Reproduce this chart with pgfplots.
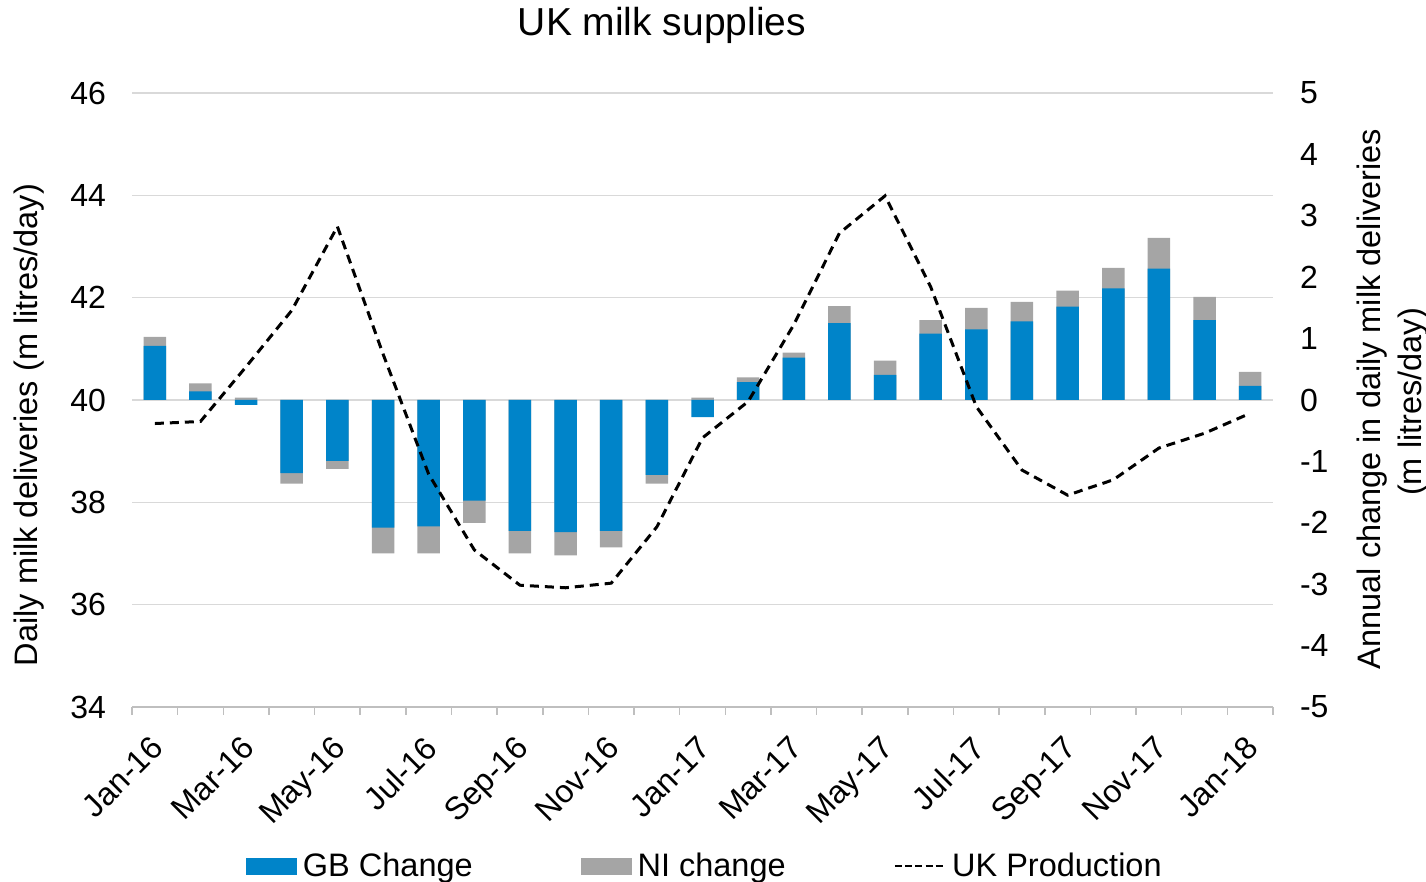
\documentclass[border=0pt]{standalone}
\usepackage{pgfplots}
\pgfplotsset{compat=1.18}
\usepackage{pgfplotstable}
\usepackage{fontspec}
\setmainfont{Liberation Sans}
\definecolor{gbblue}{RGB}{0,132,201}
\definecolor{nigray}{RGB}{165,165,165}
\definecolor{gridgray}{RGB}{217,217,217}
\definecolor{tickgray}{RGB}{191,191,191}

\pgfplotstableread{
x GB NI UK
0 0.88 0.15 39.54
1 0.14 0.13 39.58
2 -0.08 0.04 40.65
3 -1.19 -0.17 41.75
4 -0.99 -0.13 43.39
5 -2.08 -0.42 40.90
6 -2.06 -0.44 38.55
7 -1.64 -0.36 37.07
8 -2.13 -0.37 36.38
9 -2.15 -0.38 36.33
10 -2.13 -0.27 36.42
11 -1.22 -0.14 37.52
12 -0.28 0.04 39.26
13 0.29 0.08 39.97
14 0.69 0.08 41.47
15 1.25 0.28 43.26
16 0.41 0.23 43.99
17 1.08 0.22 42.21
18 1.15 0.35 39.87
19 1.28 0.32 38.63
20 1.52 0.26 38.14
21 1.82 0.33 38.44
22 2.14 0.50 39.06
23 1.30 0.38 39.35
24 0.23 0.23 39.74
}\milk

\newcommand{\tickfont}{\fontsize{16}{19}\selectfont}
\newcommand{\labfont}{\fontsize{16.25}{19.5}\selectfont}

\begin{document}
\begin{tikzpicture}
\path[use as bounding box] (0,0) rectangle (713pt,441pt);

\pgfplotsset{
  common/.style={
    at={(66pt,87.5pt)}, anchor=south west,
    scale only axis, width=570.5pt, height=307pt,
    xmin=-0.5, xmax=24.5,
    /pgf/number format/assume math mode=true,
    tick label style={font=\tickfont},
  }
}

% Axis 1: grid, left ticks, x axis
\begin{axis}[
  common,
  ymin=34, ymax=46, ytick={34,36,...,46},
  axis x line*=bottom, axis y line*=left,
  y axis line style={draw=none},
  x axis line style={draw=tickgray, line width=0.75pt},
  ymajorgrids, grid style={gridgray, line width=0.75pt},
  ytick style={draw=none},
  xtick={0,2,...,24},
  xticklabels={Jan-16,Mar-16,May-16,Jul-16,Sep-16,Nov-16,Jan-17,Mar-17,May-17,Jul-17,Sep-17,Nov-17,Jan-18},
  minor xtick={-0.5,0.5,...,24.5},
  major x tick style={draw=none},
  minor x tick style={draw=tickgray, line width=0.75pt},
  minor tick length=4pt,
  xtick align=outside,
  xticklabel style={rotate=45, anchor=north east, inner sep=0pt, xshift=-8.5pt, yshift=-4.5pt},
  yticklabel style={xshift=-9.5pt},
]
\addplot[draw=none] coordinates {(0,40)};
\end{axis}

% Axis 2: bars, right ticks
\begin{axis}[
  common,
  ymin=-5, ymax=5, ytick={-5,-4,...,5},
  axis y line*=right, axis x line=none,
  y axis line style={draw=none},
  ytick style={draw=none},
  yticklabel style={xshift=10pt},
]
\addplot[ybar, bar width=11.25pt, bar shift=0pt, fill=nigray, draw=none]
  table[x=x, y expr={(\thisrow{GB}*\thisrow{NI}<0) ? \thisrow{NI} : \thisrow{GB}+\thisrow{NI}}]{\milk};
\addplot[ybar, bar width=11.25pt, bar shift=0pt, fill=gbblue, draw=none]
  table[x=x, y=GB]{\milk};
\end{axis}

% Axis 3: line and legend
\begin{axis}[
  common,
  ymin=34, ymax=46,
  hide axis,
  legend columns=3,
  legend style={draw=none, fill=none, at={(0.503,-0.259)}, anchor=center,
    font=\labfont, /tikz/every odd column/.append style={column sep=1pt},
    /tikz/every even column/.append style={column sep=52pt}},
]
\addlegendimage{legend image code/.code={\fill[gbblue] (0pt,-4pt) rectangle (25pt,4pt);}}
\addlegendentry{GB Change}
\addlegendimage{legend image code/.code={\fill[nigray] (0pt,-4pt) rectangle (25pt,4pt);}}
\addlegendentry{NI change}
\addplot[black, line width=1.5pt, dash pattern=on 4.5pt off 3pt,
  legend image code/.code={\draw[black, line width=1.2pt, dash pattern=on 3.5pt off 1.6pt] (0pt,0pt) -- (25pt,0pt);}]
  table[x=x, y=UK]{\milk};
\addlegendentry{UK Production}
\end{axis}

\node[font=\fontsize{19.5}{23}\selectfont, anchor=base] at (331pt,423pt) {UK milk supplies};
\node[font=\labfont, rotate=90, anchor=base] at (18.5pt,228.5pt) {Daily milk deliveries (m litres/day)};
\node[font=\labfont, rotate=90, anchor=base] at (690pt,241.5pt) {Annual change in daily milk deliveries};
\node[font=\labfont, rotate=90, anchor=base] at (710.5pt,240pt) {(m litres/day)};
\end{tikzpicture}
\end{document}
